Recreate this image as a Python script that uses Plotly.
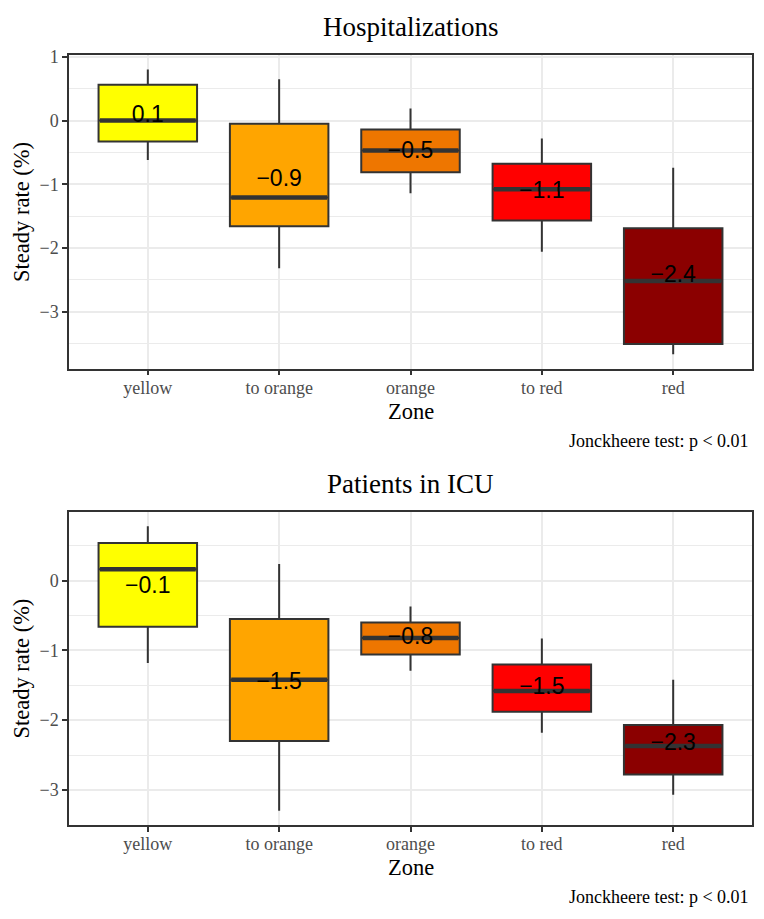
import plotly.graph_objects as go

# Page body has a default 8px margin, so the figure is drawn 8px in from the top-left.
OFF = 8
W, H = 764 - 2 * OFF, 919 - 2 * OFF

zones = ["yellow", "to orange", "orange", "to red", "red"]
colors = ["#FFFF00", "#FFA500", "#EE7600", "#FF0000", "#8B0000"]

# Hospitalizations
hosp_low = [-0.62, -2.32, -1.14, -2.06, -3.67]
hosp_q1 = [-0.33, -1.66, -0.81, -1.57, -3.51]
hosp_med = [0.00, -1.21, -0.47, -1.08, -2.52]
hosp_q3 = [0.56, -0.05, -0.14, -0.68, -1.69]
hosp_high = [0.80, 0.65, 0.19, -0.28, -0.74]
hosp_mean = [0.06, -0.94, -0.49, -1.13, -2.44]

# Patients in ICU
icu_low = [-1.18, -3.30, -1.29, -2.18, -3.07]
icu_q1 = [-0.66, -2.30, -1.06, -1.88, -2.78]
icu_med = [0.165, -1.42, -0.82, -1.58, -2.37]
icu_q3 = [0.54, -0.55, -0.60, -1.20, -2.07]
icu_high = [0.78, 0.24, -0.37, -0.83, -1.42]
icu_mean = [-0.09, -1.47, -0.83, -1.54, -2.34]

titles = ["Hospitalizations", "Patients in ICU"]
caption = "Jonckheere test: p < 0.01"

panels = [
    dict(low=hosp_low, q1=hosp_q1, med=hosp_med, q3=hosp_q3, high=hosp_high, mean=hosp_mean),
    dict(low=icu_low, q1=icu_q1, med=icu_med, q3=icu_q3, high=icu_high, mean=icu_mean),
]

# target screen-pixel layout (top, bottom) of each panel
X0, X1 = 69, 752
panel_px = [(47.7, 363.7), (508.5, 824.3)]
BOXW = 0.75

def py(px):
    return 1 - (px - OFF) / H

def pxx(px):
    return (px - OFF) / W

SERIF = "Liberation Serif"
SANS = "Liberation Sans"
DARK = "#333333"

fig = go.Figure()
annotations = []
positions = list(range(1, len(zones) + 1))

for i, p in enumerate(panels):
    xa = "x" if i == 0 else "x2"
    ya = "y" if i == 0 else "y2"
    for j, z in enumerate(zones):
        fig.add_trace(go.Box(
            x=[positions[j]], q1=[p["q1"][j]], median=[p["med"][j]], q3=[p["q3"][j]],
            lowerfence=[p["low"][j]], upperfence=[p["high"][j]],
            width=BOXW, whiskerwidth=0, fillcolor=colors[j],
            line=dict(color=DARK, width=2), boxpoints=False,
            xaxis=xa, yaxis=ya, showlegend=False, name=z, hoverinfo="skip",
        ))
    # thick median lines
    mx, my = [], []
    for j in range(len(zones)):
        mx += [positions[j] - BOXW / 2 + 0.01, positions[j] + BOXW / 2 - 0.01, None]
        my += [p["med"][j], p["med"][j], None]
    fig.add_trace(go.Scatter(x=mx, y=my, mode="lines", line=dict(color=DARK, width=4.5),
                             xaxis=xa, yaxis=ya, showlegend=False, hoverinfo="skip"))
    # mean labels
    labels = [f"{m:.1f}".replace("-", "\u2212") for m in p["mean"]]
    fig.add_trace(go.Scatter(x=positions, y=p["mean"], mode="text", text=labels,
                             textposition="middle center",
                             textfont=dict(family=SANS, size=23, color="black"),
                             xaxis=xa, yaxis=ya, showlegend=False, hoverinfo="skip"))

    lo = min(p["low"]); hi = max(p["high"]); pad = 0.05 * (hi - lo)
    top, bot = panel_px[i]
    axis_common = dict(
        showline=True, mirror=True, linecolor=DARK, linewidth=1.5,
        ticks="outside", ticklen=5, tickwidth=1.5, tickcolor=DARK,
        tickfont=dict(family=SERIF, size=18, color="#4D4D4D"),
        showgrid=True, gridcolor="#EBEBEB", gridwidth=1.6, zeroline=False,
    )
    xkey = "xaxis" if i == 0 else "xaxis2"
    ykey = "yaxis" if i == 0 else "yaxis2"
    fig.update_layout(**{
        xkey: dict(axis_common, domain=[pxx(X0), pxx(X1)], range=[0.4, len(zones) + 0.6],
                   tickmode="array", tickvals=positions, ticktext=zones,
                   ticklabelstandoff=-3, anchor=ya),
        ykey: dict(axis_common, domain=[py(bot), py(top)], range=[lo - pad, hi + pad],
                   dtick=1, tick0=0, anchor=xa,
                   minor=dict(dtick=0.5, tick0=0, showgrid=True, gridcolor="#EBEBEB",
                              gridwidth=0.8, ticks="")),
    })
    mid_x = pxx((X0 + X1) / 2)
    annotations += [
        dict(text=titles[i], x=mid_x, y=py(top - 28.5), xref="paper", yref="paper",
             xanchor="center", yanchor="middle", showarrow=False,
             font=dict(family=SERIF, size=27, color="black")),
        dict(text="Zone", x=mid_x, y=py(bot + 43), xref="paper", yref="paper",
             xanchor="center", yanchor="middle", showarrow=False,
             font=dict(family=SERIF, size=22.5, color="black")),
        dict(text=caption, x=pxx(751), y=py(bot + 73), xref="paper", yref="paper",
             xanchor="right", yanchor="middle", showarrow=False,
             font=dict(family=SERIF, size=18, color="black")),
        dict(text="Steady rate (%)", x=pxx(22), y=py((top + bot) / 2), xref="paper", yref="paper",
             xanchor="center", yanchor="middle", textangle=-90, showarrow=False,
             font=dict(family=SERIF, size=22.5, color="black")),
    ]

fig.update_layout(
    width=W, height=H, margin=dict(l=0, r=0, t=0, b=0),
    paper_bgcolor="white", plot_bgcolor="white",
    annotations=annotations, showlegend=False,
)

fig.write_html("out.html")
